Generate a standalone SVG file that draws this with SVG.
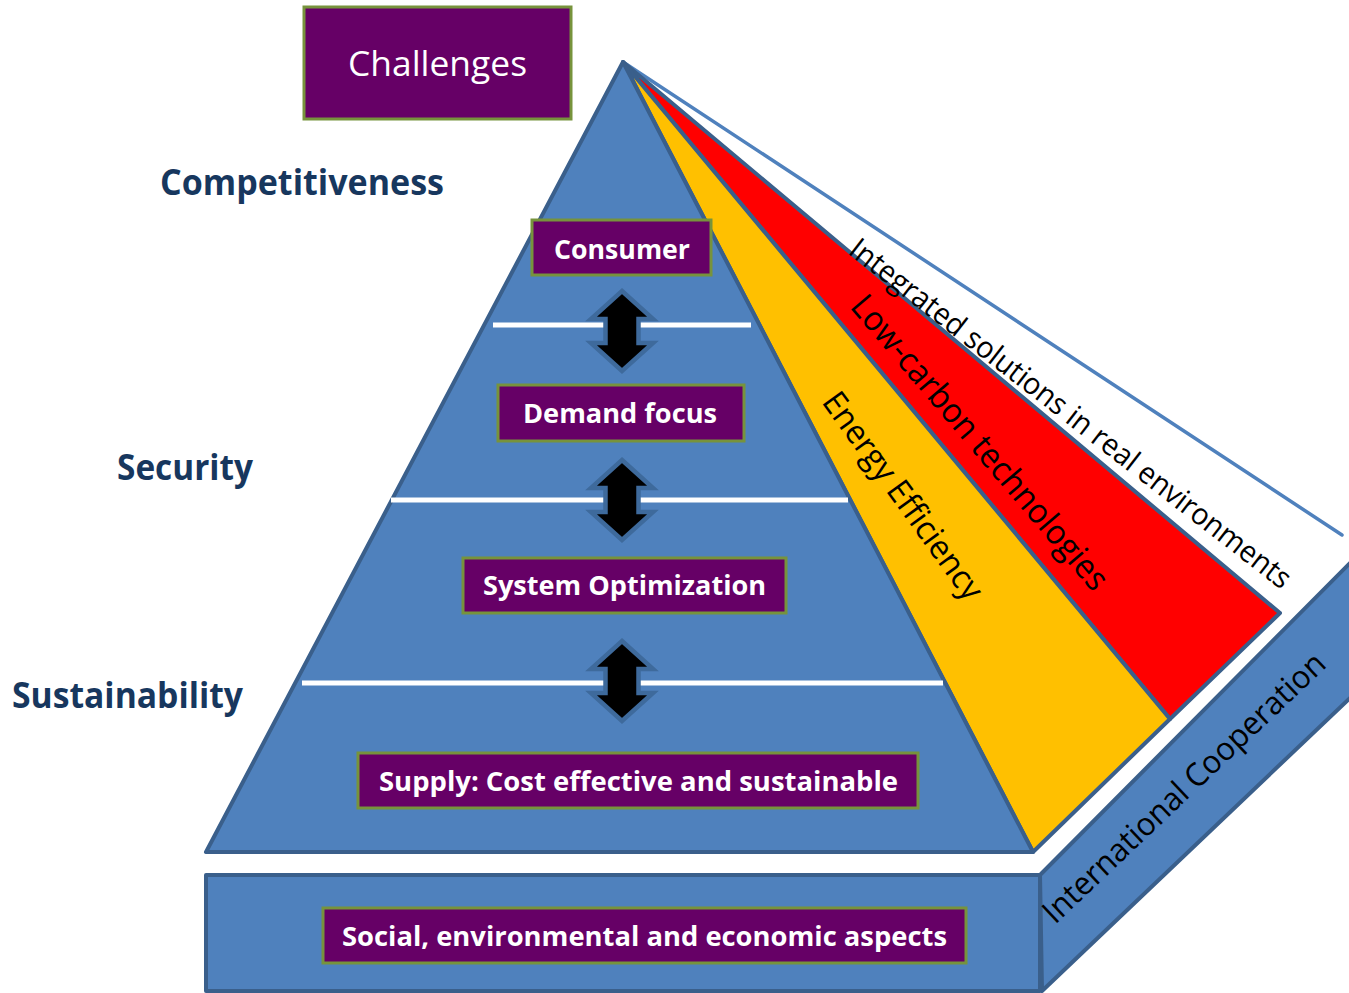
<svg xmlns="http://www.w3.org/2000/svg" width="1349" height="993" viewBox="0 0 1349 993">
<style>
.face{stroke:#3a5f8b;stroke-width:4;stroke-linejoin:round}
.blue{fill:#4f81bd}
.box{fill:#660066;stroke:#77933c;stroke-width:3}
.bt{font-family:"Open Sans","Noto Sans",sans-serif;font-weight:700;fill:#fff;text-anchor:start}
.lab{font-family:"Open Sans","Noto Sans",sans-serif;font-weight:700;fill:#17375e;font-size:36px}
.rt{font-family:"Open Sans","Noto Sans",sans-serif;fill:#000}
.sep{stroke:#fff;stroke-width:5}
.arr{fill:#000;stroke:#3e6a9c;stroke-width:4.5;stroke-linejoin:miter}
</style>
<defs>
<path id="dblarrow" d="M0,-40 L31,-12 L16.5,-12 L16.5,12 L31,12 L0,40 L-31,12 L-16.5,12 L-16.5,-12 L-31,-12 Z"/>
</defs>
<rect width="1349" height="993" fill="#fff"/>

<g id="base-slab">
<polygon class="face blue" points="1040,875 1351,562 1351,697 1042,991"/>
<rect class="face blue" x="206" y="875" width="834" height="116"/>
</g>

<g id="side-faces">
<polygon points="623,62 1280,613 1345,548 1342,535" fill="#fff"/>
<line x1="623" y1="62" x2="1342" y2="535" stroke="#4f81bd" stroke-width="3.5" stroke-linecap="round"/>
<polygon class="face" fill="#ff0000" points="623,62 1170,719 1280,613"/>
<polygon class="face" fill="#ffc000" points="623,62 1033,852 1170,719"/>
</g>

<g id="pyramid">
<polygon class="face blue" points="623,62 206,852 1033,852"/>
<line class="sep" x1="493" y1="325" x2="751" y2="325"/>
<line class="sep" x1="391" y1="500" x2="848" y2="500"/>
<line class="sep" x1="302" y1="683" x2="943" y2="683"/>
</g>

<g id="connectors">
<use href="#dblarrow" class="arr" transform="translate(622,331)"/>
<use href="#dblarrow" class="arr" transform="translate(622,500)"/>
<use href="#dblarrow" class="arr" transform="translate(622,681)"/>
</g>

<g id="challenges">
<rect class="box" x="304" y="7" width="267" height="112"/>
<text x="348" y="76" font-family="Open Sans, Noto Sans, sans-serif" font-size="34" fill="#fff" textLength="179" lengthAdjust="spacingAndGlyphs">Challenges</text>
</g>

<g id="consumer">
<rect class="box" x="532" y="220" width="179" height="55"/>
<text class="bt" x="554" y="259" font-size="26" textLength="136" lengthAdjust="spacingAndGlyphs">Consumer</text>
</g>

<g id="demand-focus">
<rect class="box" x="498" y="385" width="246" height="56"/>
<text class="bt" x="523" y="423" font-size="26" textLength="194" lengthAdjust="spacingAndGlyphs">Demand focus</text>
</g>

<g id="system-optimization">
<rect class="box" x="463" y="558" width="323" height="55"/>
<text class="bt" x="483" y="595" font-size="26" textLength="283" lengthAdjust="spacingAndGlyphs">System Optimization</text>
</g>

<g id="supply">
<rect class="box" x="358" y="753" width="560" height="55"/>
<text class="bt" x="379" y="791" font-size="26" textLength="519" lengthAdjust="spacingAndGlyphs">Supply: Cost effective and sustainable</text>
</g>

<g id="social">
<rect class="box" x="323" y="908" width="643" height="55"/>
<text class="bt" x="342" y="946" font-size="26" textLength="605" lengthAdjust="spacingAndGlyphs">Social, environmental and economic aspects</text>
</g>

<g id="labels-left">
<text class="lab" x="160" y="195" textLength="284" lengthAdjust="spacingAndGlyphs">Competitiveness</text>
<text class="lab" x="117" y="480" textLength="136" lengthAdjust="spacingAndGlyphs">Security</text>
<text class="lab" x="12" y="708" textLength="231" lengthAdjust="spacingAndGlyphs">Sustainability</text>
</g>

<g id="labels-faces">
<text class="rt" font-size="30" transform="translate(847,253) rotate(37.8)" textLength="550" lengthAdjust="spacingAndGlyphs">Integrated solutions in real environments</text>
<text class="rt" font-size="34" transform="translate(849,307) rotate(49.5)" textLength="376" lengthAdjust="spacingAndGlyphs">Low-carbon technologies</text>
<text class="rt" font-size="33" transform="translate(821,402) rotate(54)" textLength="248" lengthAdjust="spacingAndGlyphs">Energy Efficiency</text>
<text class="rt" font-size="32" transform="translate(1055,925) rotate(-43.5)" textLength="376" lengthAdjust="spacingAndGlyphs">International Cooperation</text>
</g>
</svg>
